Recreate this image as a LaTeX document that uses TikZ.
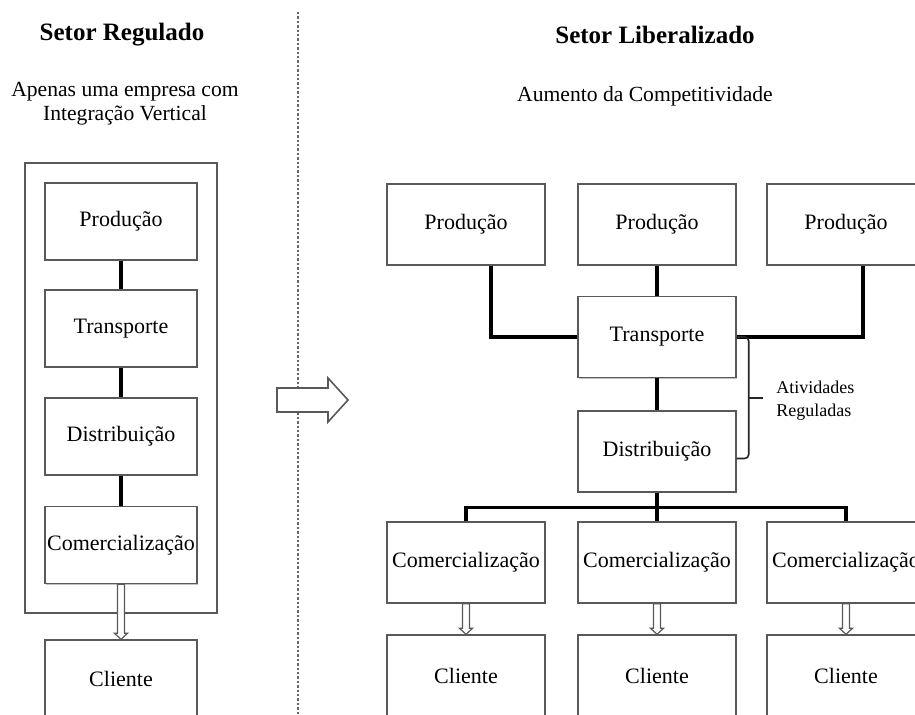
\documentclass[tikz,border=0pt]{standalone}
\usepackage{fontspec}
\setmainfont{Liberation Serif}
\usetikzlibrary{shadows}

\tikzset{
  box/.style={draw=gray!70!black, line width=0.7pt, fill=white,
    drop shadow={shadow xshift=0.5pt, shadow yshift=-0.7pt, fill=gray!80, opacity=0.6},
    minimum width=76pt, minimum height=38.5pt, inner sep=1pt,
    font=\fontsize{11}{13}\selectfont},
  bigbox/.style={box, minimum width=79pt, minimum height=40.5pt},
  link/.style={line width=1.6pt},
  headtxt/.style={font=\fontsize{12.5}{15}\bfseries},
  subtxt/.style={font=\fontsize{10.8}{12}\selectfont, align=center},
  hollow/.style={draw=gray!70!black, line width=0.6pt, fill=white,
    to path={([xshift=-1.75pt]\tikztostart) -- ([xshift=-1.75pt,yshift=3pt]\tikztotarget)
      -- ([xshift=-3.25pt,yshift=3pt]\tikztotarget) -- (\tikztotarget)
      -- ([xshift=3.25pt,yshift=3pt]\tikztotarget) -- ([xshift=1.75pt,yshift=3pt]\tikztotarget)
      -- ([xshift=1.75pt]\tikztostart) -- cycle}}
}

\begin{document}
\begin{tikzpicture}[x=0.5pt,y=-0.5pt]
\useasboundingbox (0,0) rectangle (915,715);

% setor regulado
\node[headtxt] (regtitle) at (122,35) {Setor Regulado};
\node[subtxt] (regsub) at (125,104) {Apenas uma empresa com\\Integração Vertical};

\draw[draw=gray!70!black, line width=0.7pt] (25,163) rectangle (217,613);

\node[box] (p0) at (121,221.5) {Produção};
\node[box] (t0) at (121,328.5) {Transporte};
\node[box] (d0) at (121,436.5) {Distribuição};
\node[box] (c0) at (121,545) {Comercialização};
\node[box] (k0) at (121,678.5) {Cliente};

\draw[link] (p0) -- (t0);
\draw[link] (t0) -- (d0);
\draw[link] (d0) -- (c0);
\draw[hollow] (c0.south) to (k0.north);

% separador
\draw[gray!80!black, line width=0.6pt, dash pattern=on 1.2pt off 1pt] (298,12) -- (298,715);
\draw[draw=gray!70!black, line width=0.8pt, fill=white]
  (277,388) -- (328,388) -- (328,378) -- (348,400) -- (328,422) -- (328,412) -- (277,412) -- cycle;

% setor liberalizado
\node[headtxt] (libtitle) at (655,35) {Setor Liberalizado};
\node[subtxt] (libsub) at (645,96) {Aumento da Competitividade};

\node[bigbox] (p1) at (466,224.5) {Produção};
\node[bigbox] (p2) at (657,224.5) {Produção};
\node[bigbox] (p3) at (846,224.5) {Produção};

\node[bigbox] (t1) at (657,337) {Transporte};
\node[bigbox] (d1) at (657,451.5) {Distribuição};

\node[bigbox] (c1) at (466,562.5) {Comercialização};
\node[bigbox] (c2) at (657,562.5) {Comercialização};
\node[bigbox] (c3) at (846,562.5) {Comercialização};

\node[bigbox] (k1) at (466,675.5) {Cliente};
\node[bigbox] (k2) at (657,675.5) {Cliente};
\node[bigbox] (k3) at (846,675.5) {Cliente};

\draw[link] ([xshift=12.5pt]p1.south) |- (t1.west);
\draw[link] (p2) -- (t1);
\draw[link] ([xshift=8.5pt]p3.south) |- (t1.east);
\draw[link] (t1) -- (d1);
\draw[link] (d1.south) -- (c2.north);
\draw[link] (c1.north) -- ++(0,-14) -| (c3.north);

\draw[hollow] (c1.south) to (k1.north);
\draw[hollow] (c2.south) to (k2.north);
\draw[hollow] (c3.south) to (k3.north);

% atividades reguladas
\draw[gray!30!black, line width=0.8pt, rounded corners=2pt] (t1.east) -- ++(12,0) |- ([yshift=-3.5pt]d1.east);
\draw[gray!30!black, line width=0.8pt] (748,398) -- (763,398);
\node[anchor=west, align=left, inner sep=0pt, font=\fontsize{9}{11.5}\selectfont] (reg) at (776,401) {Atividades\\Reguladas};
\end{tikzpicture}
\end{document}
